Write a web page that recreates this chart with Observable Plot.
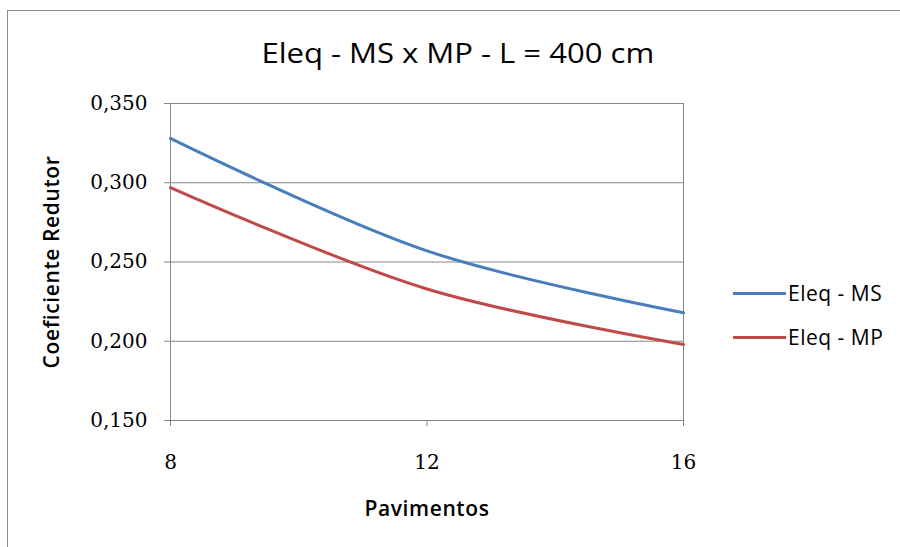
<!DOCTYPE html>
<html>
<head>
<meta charset="utf-8">
<script src="https://cdn.jsdelivr.net/npm/d3@7"></script>
<script src="https://cdn.jsdelivr.net/npm/@observablehq/plot@0.6"></script>
<style>
  html, body { margin: 0; padding: 0; background: #fff; }
  body { width: 900px; height: 547px; overflow: hidden; position: relative; }
  #frame { position: absolute; left: 7px; top: 10px; width: 900px; height: 600px; border: 1px solid #8c8c8c; box-sizing: border-box; }
  #title { position: absolute; left: 0; top: 40px; width: 916px; text-align: center; font-family: "Open Sans", sans-serif; font-size: 27px; line-height: 26px; color: #000; }
  #title span { display: inline-block; transform: scaleX(1.15); transform-origin: center; }
  #chart { position: absolute; left: 0; top: 0; }
  #legend { position: absolute; left: 733px; top: 0; font-family: "Open Sans", sans-serif; font-size: 21px; letter-spacing: 0.5px; color: #000; }
  .item { position: absolute; left: 0; display: flex; align-items: center; white-space: nowrap; }
  .sw { width: 53px; height: 3px; margin-right: 2px; }
  g[aria-label="y-axis tick label"] text, g[aria-label="x-axis tick label"] text { font-family: "DejaVu Serif", serif; font-size: 20px; fill: #000; }
  g[aria-label="y-axis label"] text, g[aria-label="x-axis label"] text { font-family: "Open Sans", sans-serif; font-size: 21px; letter-spacing: 0.6px; font-weight: 600; fill: #000; }
</style>
</head>
<body>
<div id="frame"></div>
<div id="chart"></div>
<div id="title"><span>Eleq - MS x MP - L = 400 cm</span></div>
<div id="legend"></div>
<script>
const pavimentos = [8, 12, 16];
const eleqMS = [0.328, 0.257, 0.218];
const eleqMP = [0.297, 0.233, 0.198];
const seriesNames = ["Eleq - MS", "Eleq - MP"];
const seriesColors = ["#4a7ebb", "#be4b48"];
const yTicks = [0.15, 0.20, 0.25, 0.30, 0.35];
const xTicks = [8, 12, 16];

const rows = [];
[eleqMS, eleqMP].forEach((vals, s) => {
  vals.forEach((v, i) => rows.push({x: pavimentos[i], y: v, serie: seriesNames[s]}));
});

const fmt = d => d3.format(".3f")(d).replace(".", ",");

const chart = Plot.plot({
  width: 900,
  height: 547,
  marginLeft: 170,
  marginRight: 217,
  marginTop: 103,
  marginBottom: 127,
  style: {background: "transparent", overflow: "visible"},
  x: {domain: [8, 16]},
  y: {domain: [0.15, 0.35]},
  color: {domain: seriesNames, range: seriesColors},
  marks: [
    Plot.gridY(yTicks, {stroke: "#868686", strokeOpacity: 1}),
    Plot.frame({stroke: "#868686"}),
    Plot.axisY(yTicks, {tickFormat: fmt, tickSize: 6, tickPadding: 17, stroke: "#868686", label: "Coeficiente Redutor", labelAnchor: "center", labelOffset: 126, labelArrow: "none"}),
    Plot.axisX(xTicks, {tickFormat: d => String(d), tickSize: 6, tickPadding: 28, stroke: "#868686", label: "Pavimentos", labelAnchor: "center", labelOffset: 95, labelArrow: "none"}),
    Plot.line(rows, {x: "x", y: "y", z: "serie", stroke: "serie", strokeWidth: 3, curve: "catmull-rom"})
  ]
});
document.getElementById("chart").appendChild(chart);

const legend = document.getElementById("legend");
const legendY = [293, 337];
seriesNames.forEach((name, i) => {
  const it = document.createElement("div");
  it.className = "item";
  it.style.top = (legendY[i] - 15) + "px";
  it.style.height = "30px";
  const sw = document.createElement("div");
  sw.className = "sw";
  sw.style.background = seriesColors[i];
  const tx = document.createElement("span");
  tx.textContent = name;
  it.appendChild(sw);
  it.appendChild(tx);
  legend.appendChild(it);
});
</script>
</body>
</html>
